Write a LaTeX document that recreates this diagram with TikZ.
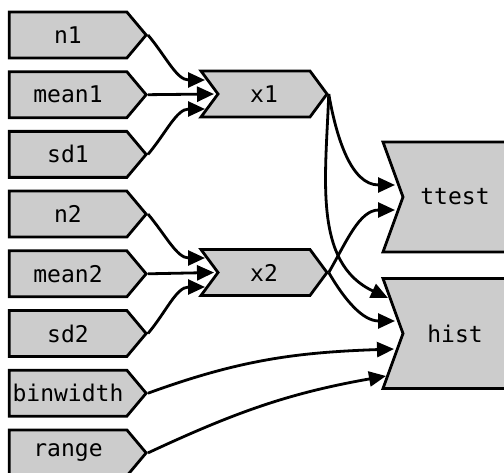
\documentclass[tikz,border=0pt]{standalone}
\usepackage{fontspec}
\setmonofont{DejaVu Sans Mono}
\usetikzlibrary{shapes.symbols,arrows.meta,calc}

\tikzset{
  inbox/.style={signal, signal to=east, signal pointer angle=100, draw, fill=gray!40,
    line width=2.8pt, minimum width=137pt, minimum height=46pt, inner sep=0pt,
    font=\ttfamily\fontsize{23}{23}\selectfont},
  midbox/.style={inbox, signal from=west, signal to=east, signal pointer angle=107,
    minimum width=126pt},
  outbox/.style={inbox, signal from=west, signal to=nowhere, signal pointer angle=140,
    minimum width=124pt, minimum height=110pt},
  link/.style={line width=2.8pt, -{Triangle[length=17pt,width=15pt]}}
}

\begin{document}
\begin{tikzpicture}[x=1pt,y=1pt]
  \useasboundingbox (0,0) rectangle (504,472);
 % \draw[thin,gray!40] (0,0) grid[step=20] (504,472);
  \node[inbox] (n1) at (68,437) {n1};
  \node[inbox] (mean1) at (68,377.3) {mean1};
  \node[inbox] (sd1) at (68,317.6) {sd1};
  \node[inbox] (n2) at (68,257.9) {n2};
  \node[inbox] (mean2) at (68,198.2) {mean2};
  \node[inbox] (sd2) at (68,138.5) {sd2};
  \node[inbox] (binwidth) at (68,78.8) {binwidth};
  \node[inbox] (range) at (68,19.1) {range};

  \node[midbox] (x1) at (264,378) {x1};
  \node[midbox] (x2) at (264,199.5) {x2};

  \node[outbox] (ttest) at (455,275) {ttest};
  \node[outbox] (hist) at (455,138.5) {hist};

  \draw[link] (n1.east) to[out=-50,in=180] ($(x1.center)+(-59,14)$);
  \draw[link] (mean1.east) -- ($(x1.center)+(-50,0)$);
  \draw[link] (sd1.east) to[out=50,in=180] ($(x1.center)+(-59,-15)$);
  \draw[link] (n2.east) to[out=-50,in=180] ($(x2.center)+(-59,14.5)$);
  \draw[link] (mean2.east) -- ($(x2.center)+(-50,0)$);
  \draw[link] (sd2.east) to[out=50,in=180] ($(x2.center)+(-59,-14.5)$);

  \draw[link] (x1.east) to[out=-80,in=180] ($(ttest.center)+(-60,12)$);
  \draw[link] (x1.east) to[out=-92,in=155] ($(hist.center)+(-67,35.5)$);
  \draw[link] (x2.east) to[out=60,in=180] ($(ttest.center)+(-60,-13)$);
  \draw[link] (x2.east) to[out=-60,in=180] ($(hist.center)+(-60,12.5)$);
  \draw[link] (binwidth.east) to[out=20,in=182] ($(hist.center)+(-61,-15.5)$);
  \draw[link] (range.east) to[out=25,in=190] ($(hist.center)+(-69,-42.5)$);
\end{tikzpicture}
\end{document}
